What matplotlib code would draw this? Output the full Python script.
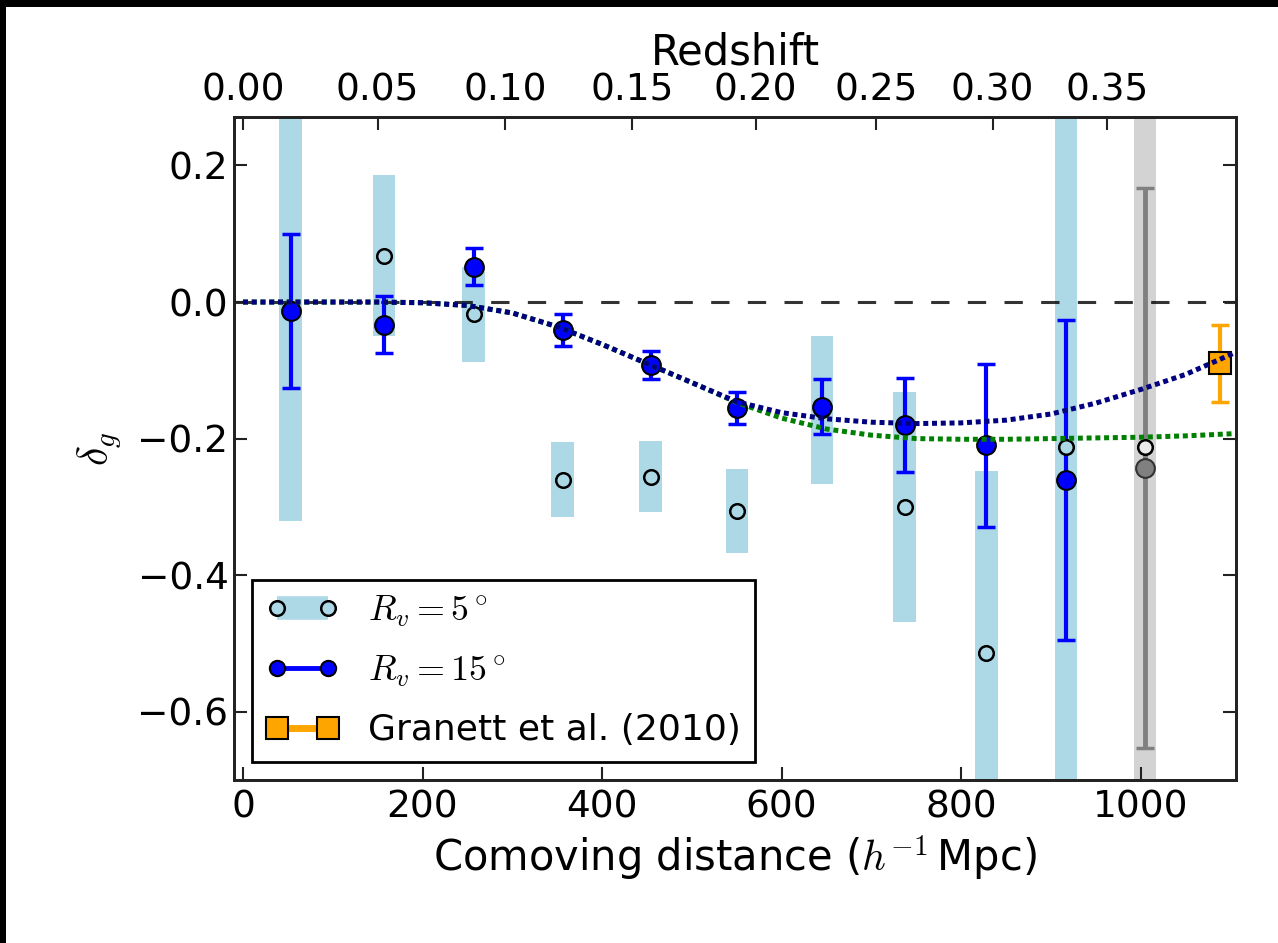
import matplotlib
matplotlib.use("Agg")
import matplotlib.pyplot as plt
from matplotlib.lines import Line2D
from matplotlib.patches import Rectangle

plt.rcParams['font.family'] = ['DejaVu Sans']
plt.rcParams['mathtext.fontset'] = 'cm'

# ---------------- data ----------------
dist_bins = [53, 157, 257, 356, 454, 550, 645, 737, 828, 917]
rv5_val = [-0.010, 0.068, -0.018, -0.260, -0.256, -0.306, -0.158, -0.300, -0.514, -0.212]
rv5_err = [0.310, 0.118, 0.070, 0.055, 0.052, 0.061, 0.108, 0.168, 0.267, 0.520]
rv15_val = [-0.013, -0.033, 0.052, -0.041, -0.092, -0.155, -0.153, -0.180, -0.210, -0.261]
rv15_err = [0.113, 0.042, 0.027, 0.024, 0.020, 0.023, 0.040, 0.069, 0.119, 0.234]

grey_dist = [1005]
grey_rv5_val = [-0.212]
grey_rv5_err = [0.550]
grey_rv15_val = [-0.243]
grey_rv15_err = [0.410]

granett_dist = [1088]
granett_val = [-0.090]
granett_err = [0.056]

curve_dist = [0, 50, 100, 150, 200, 250, 300, 350, 400, 450, 500, 550, 600, 650,
              700, 750, 800, 850, 900, 950, 1000, 1050, 1100, 1110]
curve_blue = [0.0, 0.0, 0.0, 0.0, -0.001, -0.005, -0.016, -0.036, -0.062, -0.090,
              -0.118, -0.146, -0.162, -0.171, -0.176, -0.178, -0.177, -0.173,
              -0.164, -0.148, -0.128, -0.106, -0.077, -0.071]
curve_green = [0.0, 0.0, 0.0, 0.0, -0.001, -0.005, -0.016, -0.036, -0.062, -0.090,
               -0.118, -0.147, -0.170, -0.186, -0.195, -0.200, -0.201, -0.201,
               -0.200, -0.199, -0.198, -0.196, -0.193, -0.192]

x_ticks = [0, 200, 400, 600, 800, 1000]
y_ticks = [-0.6, -0.4, -0.2, 0.0, 0.2]
redshift_labels = ['0.00', '0.05', '0.10', '0.15', '0.20', '0.25', '0.30', '0.35']
redshift_dist = [0, 150, 292, 433, 571, 705, 835, 962]

legend_labels = [r'$R_v=5^\circ$', r'$R_v=15^\circ$', 'Granett et al. (2010)']

# ---------------- figure ----------------
fig = plt.figure(figsize=(12.78, 9.43), dpi=100)
fig.patch.set_facecolor('white')
fig.patches.append(Rectangle((0, 0), 6 / 1278, 1, transform=fig.transFigure,
                             facecolor='black', edgecolor='none', zorder=-10))
fig.patches.append(Rectangle((0, 1 - 7 / 943), 1, 7 / 943, transform=fig.transFigure,
                             facecolor='black', edgecolor='none', zorder=-10))

ax = fig.add_axes([0.1831, 0.1729, 0.7840, 0.7030])
FS = 27
LFS = 30

# light blue bands (R_v = 5 deg)
lo5 = [v - e for v, e in zip(rv5_val, rv5_err)]
h5 = [2 * e for e in rv5_err]
ax.bar(dist_bins, h5, bottom=lo5, width=25, color='lightblue', edgecolor='none', zorder=1)
# grey band
glo = [v - e for v, e in zip(grey_rv5_val, grey_rv5_err)]
ax.bar(grey_dist, [2 * e for e in grey_rv5_err], bottom=glo, width=25,
       color='lightgrey', edgecolor='none', zorder=1)

# zero line
ax.axhline(0, color='k', alpha=0.8, lw=2.2, ls=(0, (6, 6)), zorder=1.5)

# error bars (R_v = 15 deg)
ax.errorbar(dist_bins, rv15_val, yerr=rv15_err, fmt='none', ecolor='blue',
            elinewidth=3, capsize=6.5, capthick=2.5, zorder=2)
ax.errorbar(grey_dist, grey_rv15_val, yerr=grey_rv15_err, fmt='none', ecolor='grey',
            elinewidth=3.5, capsize=6.5, capthick=2.5, zorder=2)
ax.errorbar(granett_dist, granett_val, yerr=granett_err, fmt='none', ecolor='orange',
            elinewidth=3, capsize=6.5, capthick=2.5, zorder=2)

# open circles R_v = 5
ax.plot(dist_bins, rv5_val, ls='none', marker='o', ms=10.5, mfc='lightblue',
        mec='k', mew=1.8, zorder=3)
ax.plot(grey_dist, grey_rv5_val, ls='none', marker='o', ms=10.5, mfc='#ebebeb',
        mec='k', mew=1.8, zorder=3)

# filled markers R_v = 15
ax.plot(dist_bins, rv15_val, ls='none', marker='o', ms=13.5, mfc='blue',
        mec='k', mew=1.5, zorder=4)
ax.plot(grey_dist, grey_rv15_val, ls='none', marker='o', ms=13.5, mfc='grey',
        mec='#333333', mew=1.5, zorder=4)
ax.plot(granett_dist, granett_val, ls='none', marker='s', ms=15.5, mfc='orange',
        mec='k', mew=1.5, zorder=4)

# model curves
ax.plot(curve_dist, curve_green, color='green', lw=3.6, ls=(0, (1, 0.75)), zorder=5)
ax.plot(curve_dist, curve_blue, color='navy', lw=3.6, ls=(0, (1, 0.75)), zorder=5.1)

ax.set_xlim(-10, 1106)
ax.set_ylim(-0.70, 0.271)
ax.set_xticks(x_ticks)
ax.set_yticks(y_ticks)
ax.set_yticklabels([f'{t:.1f}'.replace('-', '\u2212') for t in y_ticks])
ax.tick_params(axis='both', direction='in', length=9.5, width=1.5, labelsize=FS,
               colors='#222222', labelcolor='black')
ax.tick_params(axis='x', top=False, bottom=True, pad=7)
ax.tick_params(axis='y', left=True, right=True, pad=4)
for s in ax.spines.values():
    s.set_linewidth(2)
    s.set_color('#222222')

ax.set_xlabel(r'Comoving distance ($h^{-1}\,$Mpc)', fontsize=LFS, labelpad=6)
ax.set_ylabel(r'$\delta_g$', fontsize=LFS, labelpad=10)

ax2 = ax.twiny()
ax2.set_xlim(ax.get_xlim())
ax2.set_xticks(redshift_dist)
ax2.set_xticklabels(redshift_labels)
ax2.tick_params(axis='x', direction='in', length=9.5, width=1.5, labelsize=FS,
                colors='#222222', labelcolor='black', pad=6)
ax2.set_xlabel('Redshift', fontsize=LFS, labelpad=6)
for s in ax2.spines.values():
    s.set_linewidth(2)
    s.set_color('#222222')

handles = [
    Line2D([], [], color='lightblue', lw=17, solid_capstyle='butt', marker='o',
           ms=10.5, mfc='lightblue', mec='k', mew=1.8),
    Line2D([], [], color='blue', lw=3.5, marker='o', ms=11, mfc='blue', mec='k', mew=1.5),
    Line2D([], [], color='orange', lw=5, marker='s', ms=15.5, mfc='orange', mec='k', mew=1.5),
]
leg = ax.legend(handles, legend_labels, loc='lower left', numpoints=2, fontsize=26,
                fancybox=False, edgecolor='black', framealpha=1, labelspacing=0.68)
leg.get_frame().set_linewidth(2)
leg.set_zorder(10)

fig.savefig('out.png', dpi=100, facecolor=fig.get_facecolor())
